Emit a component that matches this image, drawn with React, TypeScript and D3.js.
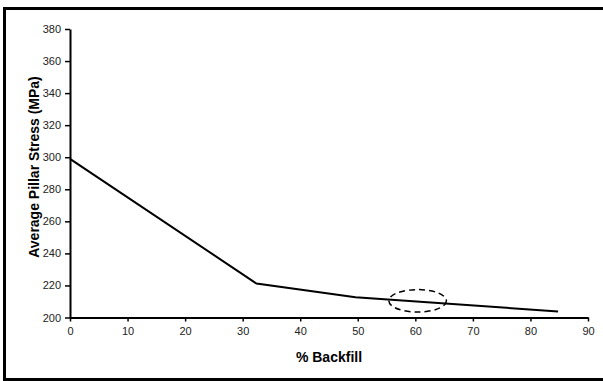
import React, { useEffect, useRef } from 'react';
import * as d3 from 'd3';

// % backfill vs average pillar stress
const backfill = [0, 32.4, 49.6, 84.8];
const stress = [299, 221.2, 212.6, 203.8];

const xTicks = [0, 10, 20, 30, 40, 50, 60, 70, 80, 90];
const yTicks = [200, 220, 240, 260, 280, 300, 320, 340, 360, 380];

// dashed ellipse highlighting the region near 60% backfill
const highlight = { cx: 60.4, cy: 210.4, rx: 5, ry: 7 };

export default function App() {
  const svgRef = useRef<SVGSVGElement>(null);
  const width = 603;
  const height = 381;

  useEffect(() => {
    const svg = d3.select(svgRef.current);
    svg.selectAll('*').remove();

    const font = 'Arial, "Liberation Sans", sans-serif';

    // outer frame (right edge runs off the picture)
    svg.append('rect')
      .attr('x', 4.5)
      .attr('y', 8.5)
      .attr('width', 610)
      .attr('height', 371)
      .style('fill', '#fff')
      .style('stroke', '#000')
      .style('stroke-width', 3);

    const xScale = d3.scaleLinear().domain([0, 90]).range([70, 588]);
    const yScale = d3.scaleLinear().domain([200, 380]).range([317.5, 29]);

    const points = backfill.map((b, i) => ({ x: b, y: stress[i] }));

    const line = d3.line<{ x: number; y: number }>()
      .x(d => xScale(d.x))
      .y(d => yScale(d.y));

    svg.append('path')
      .datum(points)
      .attr('d', line)
      .style('fill', 'none')
      .style('stroke', '#000')
      .style('stroke-width', 2);

    // highlight ellipse
    svg.append('ellipse')
      .attr('cx', xScale(highlight.cx))
      .attr('cy', yScale(highlight.cy))
      .attr('rx', xScale(highlight.cx + highlight.rx) - xScale(highlight.cx))
      .attr('ry', yScale(highlight.cy - highlight.ry) - yScale(highlight.cy))
      .style('fill', 'none')
      .style('stroke', '#000')
      .style('stroke-width', 1.5)
      .style('stroke-dasharray', '6,4');

    // X axis
    const xAxis = svg.append('g')
      .attr('transform', `translate(0,${yScale(200)})`)
      .call(d3.axisBottom(xScale).tickValues(xTicks).tickSize(4).tickPadding(6).tickSizeOuter(0));
    xAxis.select('.domain').style('stroke-width', 2);
    xAxis.selectAll('line').style('stroke-width', 1.5);
    xAxis.selectAll('text')
      .style('font-family', font)
      .style('font-size', '11px')
      .style('fill', '#222');

    // Y axis
    const yAxis = svg.append('g')
      .attr('transform', `translate(${xScale(0)},0)`)
      .call(d3.axisLeft(yScale).tickValues(yTicks).tickSize(5).tickPadding(4).tickSizeOuter(0));
    yAxis.select('.domain').style('stroke-width', 2);
    yAxis.selectAll('line').style('stroke-width', 1.5);
    yAxis.selectAll('text')
      .style('font-family', font)
      .style('font-size', '11px')
      .style('fill', '#222');

    // axis titles
    svg.append('text')
      .attr('x', (xScale(0) + xScale(90)) / 2)
      .attr('y', 362)
      .attr('text-anchor', 'middle')
      .style('font-family', font)
      .style('font-size', '14px')
      .style('font-weight', 'bold')
      .text('% Backfill');

    svg.append('text')
      .attr('transform', 'translate(39,167) rotate(-90)')
      .attr('text-anchor', 'middle')
      .style('font-family', font)
      .style('font-size', '14px')
      .style('font-weight', 'bold')
      .text('Average Pillar Stress (MPa)');
  }, []);

  return (
    <svg
      ref={svgRef}
      width={width}
      height={height}
      style={{ position: 'absolute', left: 0, top: 0, background: '#fff' }}
    />
  );
}
